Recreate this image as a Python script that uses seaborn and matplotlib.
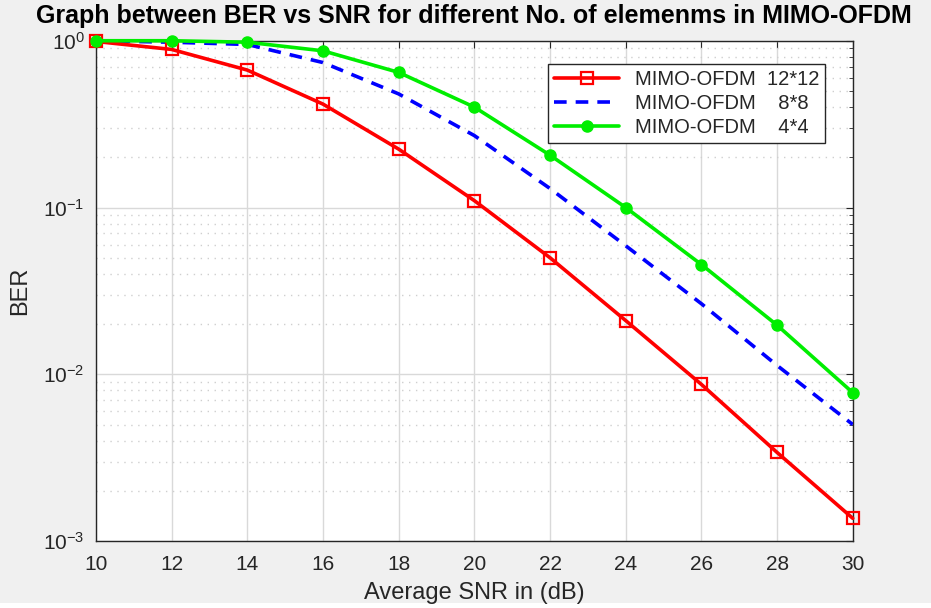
import numpy as np
import pandas as pd
import matplotlib
matplotlib.use("Agg")
import matplotlib.pyplot as plt
import seaborn as sns
from matplotlib.patches import Rectangle
from matplotlib.ticker import LogLocator, NullFormatter, FixedLocator

# ── Data ──────────────────────────────────────────────────────────────────────

snr = [10, 12, 14, 16, 18, 20, 22, 24, 26, 28, 30]

ber_12x12 = [0.99, 0.887, 0.667, 0.417, 0.224, 0.110, 0.050, 0.021, 0.0087, 0.0034, 0.00137]
ber_8x8   = [1.0, 0.98, 0.95, 0.74, 0.48, 0.27, 0.13, 0.059, 0.0265, 0.0113, 0.0050]
ber_4x4   = [1.0, 1.0, 0.98, 0.87, 0.646, 0.40, 0.206, 0.100, 0.0455, 0.0197, 0.00776]

labels = ["MIMO-OFDM  12*12", "MIMO-OFDM    8*8", "MIMO-OFDM    4*4"]

# ── Style ─────────────────────────────────────────────────────────────────────

sns.set_style("white")
plt.rcParams["font.family"] = ["Liberation Sans", "DejaVu Sans"]
plt.rcParams["text.color"] = "#262626"
plt.rcParams["axes.labelcolor"] = "#262626"

fig = plt.figure(figsize=(9.31, 6.08), dpi=100, facecolor="#f0f0f0")
ax = fig.add_axes([0.103, 0.110, 0.813, 0.823])
ax.set_facecolor("white")

# white strip at the very bottom of the screenshot
fig.patches.append(Rectangle((0, 0), 1, 0.008, transform=fig.transFigure,
                             facecolor="white", edgecolor="none", zorder=-1))

# ── Lines ─────────────────────────────────────────────────────────────────────

sns.lineplot(x=snr, y=ber_12x12, ax=ax, color="#ff0000", linewidth=2.6,
             marker="s", markersize=8, markerfacecolor="none",
             markeredgecolor="#ff0000", markeredgewidth=1.6, label=labels[0],
             clip_on=False, zorder=4)
sns.lineplot(x=snr, y=ber_8x8, ax=ax, color="#0000ff", linewidth=2.6,
             linestyle=(0, (3.5, 2.5)), label=labels[1], zorder=3)
sns.lineplot(x=snr, y=ber_4x4, ax=ax, color="#00ee00", linewidth=2.6,
             marker="o", markersize=8, markerfacecolor="#00ee00",
             markeredgecolor="#00ee00", markeredgewidth=1, label=labels[2],
             clip_on=False, zorder=5)

# ── Axes ──────────────────────────────────────────────────────────────────────

ax.set_yscale("log")
ax.set_xlim(10, 30)
ax.set_ylim(1e-3, 1)
ax.xaxis.set_major_locator(FixedLocator(snr))
ax.yaxis.set_major_locator(LogLocator(base=10, numticks=10))
ax.yaxis.set_minor_locator(LogLocator(base=10, subs=np.arange(2, 10), numticks=10))
ax.yaxis.set_minor_formatter(NullFormatter())

ax.grid(which="major", color="#d9d9d9", linewidth=1, linestyle="-")
ax.grid(which="minor", axis="y", color="#cfcfcf", linewidth=1, linestyle=(0, (1, 4)))
ax.set_axisbelow(True)

ax.tick_params(which="both", direction="in", top=True, right=True,
               colors="#262626", labelsize=15)
ax.tick_params(which="major", length=5)
ax.tick_params(which="minor", length=3)
ax.tick_params(axis="x", which="major", pad=10)
ax.tick_params(axis="y", which="major", pad=8)
for spine in ax.spines.values():
    spine.set_color("#262626")
    spine.set_linewidth(1)

ax.set_xlabel("Average SNR in (dB)", fontsize=17, labelpad=6)
ax.set_ylabel("BER", fontsize=17, labelpad=9)
ax.set_title("Graph between BER vs SNR for different No. of elemenms in MIMO-OFDM",
             fontsize=18, fontweight="bold", color="black", pad=13)

leg = ax.legend(loc="upper right", bbox_to_anchor=(0.977, 0.974), fontsize=14.5,
                frameon=True, fancybox=False, framealpha=1, edgecolor="#262626",
                handlelength=3.2, borderpad=0.3, labelspacing=0.25)
leg.get_frame().set_linewidth(1)

fig.savefig("out.png", dpi=100, facecolor=fig.get_facecolor())
